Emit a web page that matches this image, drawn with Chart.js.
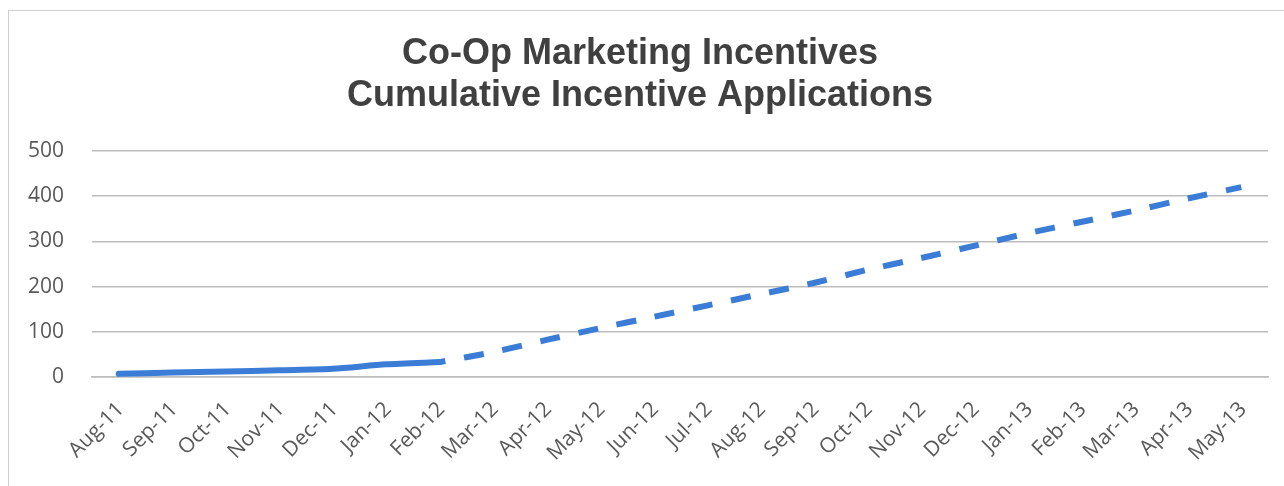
<!DOCTYPE html>
<html lang="en">
<head>
  <meta charset="UTF-8">
  <title>Co-Op Marketing Incentives</title>
  <script src="https://cdn.jsdelivr.net/npm/chart.js"></script>
  <style>
    html, body {
      margin: 0;
      padding: 0;
      background: #fff;
      overflow: hidden;
    }
    .frame {
      position: absolute;
      left: 8px;
      top: 10px;
      width: 1400px;
      height: 600px;
      border: 1.5px solid #cfcfcf;
    }
    .wrap {
      position: absolute;
      left: 0;
      top: 0;
      width: 1284px;
      height: 486px;
    }
  </style>
</head>
<body>
  <div class="frame"></div>
  <div class="wrap"><canvas id="appsChart" width="1284" height="486"></canvas></div>

  <script>
    const months = ['Aug-11', 'Sep-11', 'Oct-11', 'Nov-11', 'Dec-11', 'Jan-12', 'Feb-12',
      'Mar-12', 'Apr-12', 'May-12', 'Jun-12', 'Jul-12', 'Aug-12', 'Sep-12', 'Oct-12',
      'Nov-12', 'Dec-12', 'Jan-13', 'Feb-13', 'Mar-13', 'Apr-13', 'May-13'];

    // applications received so far
    const actual = [7, 10, 12, 15, 18, 28, 33, null, null, null, null, null, null, null,
      null, null, null, null, null, null, null, null];

    // projection picks up at the last actual month
    const projected = [null, null, null, null, null, null, 33, 55, 82, 108, 133, 158, 183,
      208, 237, 263, 290, 318, 343, 368, 395, 420];

    const yTicks = [0, 100, 200, 300, 400, 500];

    const blue = '#3b7dd6';
    const gridGrey = '#bdbdbd';

    const ctx = document.getElementById('appsChart').getContext('2d');

    new Chart(ctx, {
      type: 'line',
      data: {
        labels: months,
        datasets: [{
          label: 'Actual',
          data: actual,
          borderColor: blue,
          borderWidth: 6,
          borderCapStyle: 'round',
          pointRadius: 0,
          tension: 0.25,
          fill: false
        }, {
          label: 'Projected',
          data: projected,
          borderColor: blue,
          borderWidth: 6,
          borderDash: [20, 19],
          borderDashOffset: 14,
          pointRadius: 0,
          tension: 0.25,
          fill: false
        }]
      },
      options: {
        responsive: false,
        animation: false,
        events: [],
        layout: {
          padding: { left: 12, right: 16, top: 0, bottom: 0 }
        },
        plugins: {
          legend: { display: false },
          tooltip: { enabled: false },
          title: {
            display: true,
            text: ['Co-Op Marketing Incentives', 'Cumulative Incentive Applications'],
            color: '#404040',
            font: { family: "'Liberation Sans', Arial, sans-serif", size: 36, weight: 'bold', lineHeight: 1.167 },
            padding: { top: 33, bottom: 34 }
          }
        },
        scales: {
          x: {
            offset: true,
            grid: { display: false, drawTicks: false },
            border: { display: true, color: gridGrey, width: 1.5 },
            afterFit: (scale) => { scale.height = 109; },
            ticks: {
              color: '#595959',
              font: { family: "'Open Sans', sans-serif", size: 21 },
              minRotation: 45,
              maxRotation: 45,
              autoSkip: false,
              padding: 20,
              labelOffset: 2
            }
          },
          y: {
            min: 0,
            max: 500,
            afterFit: (scale) => { scale.width = 80; },
            afterBuildTicks: (scale) => {
              scale.ticks = yTicks.map(v => ({ value: v }));
            },
            grid: { color: gridGrey, lineWidth: 1.5, drawTicks: false },
            border: { display: false },
            ticks: {
              color: '#595959',
              font: { family: "'Open Sans', sans-serif", size: 21 },
              padding: 28
            }
          }
        }
      }
    });
  </script>
</body>
</html>
